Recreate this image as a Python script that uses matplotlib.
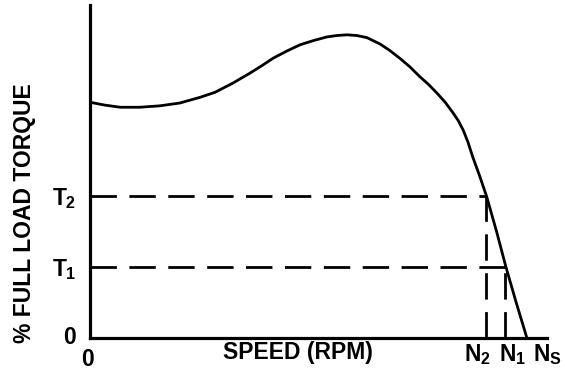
import numpy as np
import matplotlib
matplotlib.use('Agg')
import matplotlib.pyplot as plt

# torque-speed curve (speed in % of Ns, torque in % with T1 = 100)
speed = [0, 3.4, 6.9, 11.4, 16.0, 20.6, 25.2, 28.6, 32.7, 36.6, 39.2, 41.9, 45.0, 48.1,
         51.2, 54.2, 56.5, 58.8, 61.1, 63.4, 66.4, 68.6, 70.9, 73.2, 75.5, 77.5, 79.4,
         81.3, 83.1, 84.3, 85.4, 86.5, 87.6, 89.2, 90.8, 93.1, 95.2, 97.5, 100]
torque = [332, 328, 325, 325, 327, 331, 339, 346, 359, 373, 383, 394, 404, 413,
          419, 424, 426, 427, 426, 423, 414, 405, 394, 382, 368, 357, 345,
          332, 317, 306, 293, 276, 255, 228, 199, 149, 100, 51, 0]

T_levels = [100, 200]          # T1, T2
N_levels = [95.0, 90.7]        # N1, N2
T_labels = ['$T_1$', '$T_2$']
N_labels = ['$N_2$', '$N_1$', '$N_S$']
N_label_pos = [88.6, 96.8, 104.6]

plt.rcParams['font.family'] = ['Liberation Sans', 'DejaVu Sans']
plt.rcParams['font.weight'] = 'bold'
plt.rcParams['mathtext.fontset'] = 'custom'
plt.rcParams['mathtext.rm'] = 'Liberation Sans:bold'
plt.rcParams['mathtext.it'] = 'Liberation Sans:bold'
plt.rcParams['mathtext.bf'] = 'Liberation Sans:bold'
plt.rcParams['lines.scale_dashes'] = False

fig = plt.figure(figsize=(5.65, 3.75), dpi=100)
ax = fig.add_axes([90/565, 1-338/375, (547-90)/565, (338-5)/375])
ax.set_xlim(0, 104.6)
ax.set_ylim(0, 469)

ax.plot(speed, torque, color='black', lw=2.0, solid_joinstyle='round', solid_capstyle='round')

for t, n in zip(T_levels, N_levels):
    ax.plot([0, n], [t, t], color='black', lw=2.0, dashes=(19, 9))
    ax.plot([n, n], [0, t], color='black', lw=2.0, dashes=(19, 9))

for s in ['top', 'right']:
    ax.spines[s].set_visible(False)
for s in ['left', 'bottom']:
    ax.spines[s].set_linewidth(2.3)
ax.set_xticks([])
ax.set_yticks([])

fs = 16.5
# y tick labels
ax.text(-3.2, 0, '0', ha='right', va='center', fontsize=fs, fontweight='bold')
for t, lab in zip(T_levels, T_labels):
    ax.text(-3.2, t - 4, lab, ha='right', va='center', fontsize=fs)
# x tick labels
ax.text(-0.6, -30, '0', ha='center', va='center', fontsize=fs, fontweight='bold', clip_on=False)
for x, lab in zip(N_label_pos, N_labels):
    ax.text(x, -23, lab, ha='center', va='center', fontsize=fs, clip_on=False)

ax.text(47.5, -20, 'SPEED (RPM)', ha='center', va='center', fontsize=fs, fontweight='bold')
fig.text(25/565, 1-213/375, '% FULL LOAD TORQUE', rotation=90, ha='center', va='center',
         fontsize=fs, fontweight='bold')

fig.savefig('out.png', dpi=100)
